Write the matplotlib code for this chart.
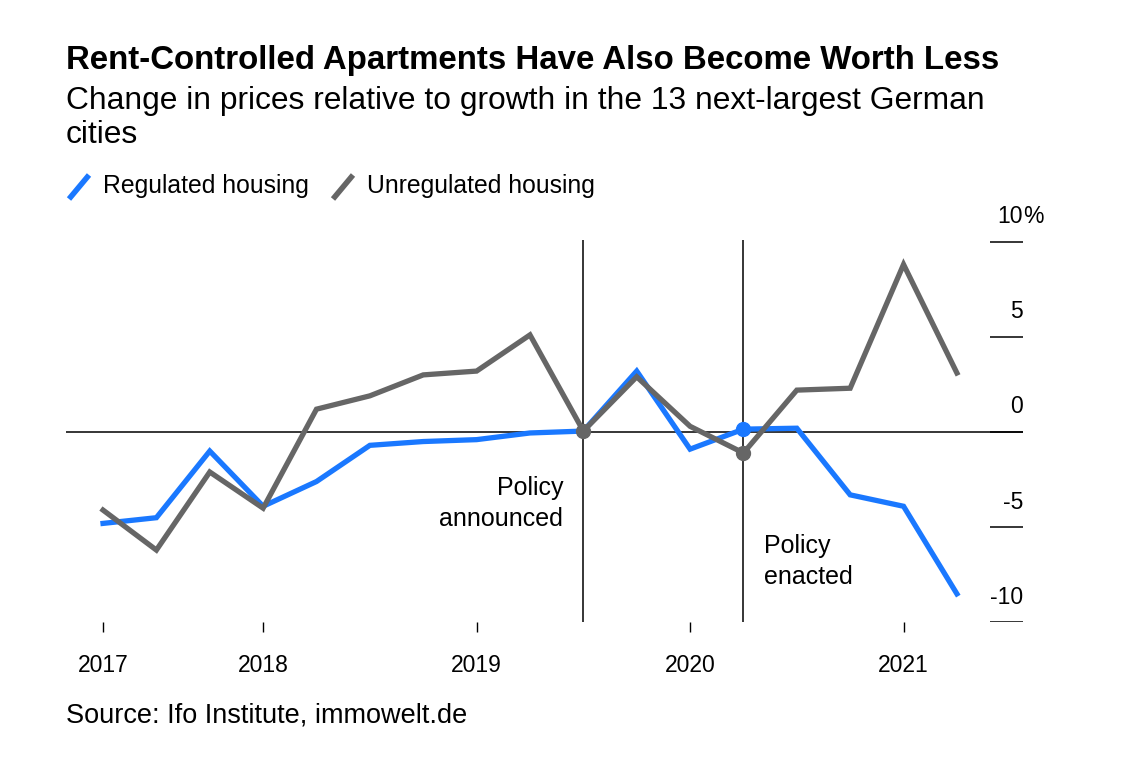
import matplotlib.pyplot as plt
from matplotlib.lines import Line2D

plt.rcParams['font.family'] = ['Liberation Sans', 'DejaVu Sans']

# quarterly observations, Q2 2017 .. Q2 2021
quarters = list(range(17))
regulated = [-4.8, -4.5, -1.0, -3.9, -2.6, -0.7, -0.5, -0.4, -0.05, 0.05,
             3.2, -0.9, 0.15, 0.2, -3.3, -3.9, -8.5]
unregulated = [-4.1, -6.2, -2.1, -4.0, 1.2, 1.9, 3.0, 3.2, 5.1, 0.05,
               2.9, 0.3, -1.1, 2.2, 2.3, 8.8, 3.1]

year_ticks = [0, 3, 7, 11, 15]
year_labels = ['2017', '2018', '2019', '2020', '2021']
y_ticks = [10, 5, 0, -5, -10]
y_labels = ['10', '5', '0', '-5', '-10']

announced = 9
enacted = 12

blue = '#1a78ff'
gray = '#666666'

fig = plt.figure(figsize=(11.27, 7.73), dpi=100)
ax = fig.add_axes([0.0586, 0.1948, 0.8492, 0.5419])
ax.set_xlim(-0.693, 17.24)
ax.set_ylim(-10, 12)
for s in ax.spines.values():
    s.set_visible(False)
ax.set_yticks([])
ax.set_xticks(year_ticks)
ax.set_xticklabels(year_labels, fontsize=16.5)
ax.tick_params(axis='x', length=7.5, width=1, color='black', pad=15)

# zero line and right-hand ticks
ax.axhline(0, color='black', lw=1.1, zorder=1)
for v, lab in zip(y_ticks, y_labels):
    ax.hlines(v, 16.62, 17.24, color='black', lw=1.1, zorder=1)
    ax.text(17.24, v + 0.72, lab, ha='right', va='bottom', fontsize=16.5)
ax.text(17.24, 10 + 0.72, '%', ha='left', va='bottom', fontsize=16.5)

# policy markers
ax.vlines([announced, enacted], -10, 10.1, color='black', lw=1.1, zorder=1)
ax.text(announced - 0.38, -3.76, 'Policy\nannounced', ha='right', va='center',
        fontsize=18, linespacing=1.33)
ax.text(enacted + 0.38, -6.8, 'Policy\nenacted', ha='left', va='center',
        fontsize=18, linespacing=1.33)

ax.plot(quarters, regulated, color=blue, lw=3.8, zorder=3, solid_joinstyle='miter')
ax.plot(quarters, unregulated, color=gray, lw=3.8, zorder=4, solid_joinstyle='miter')
ax.plot([enacted], [regulated[enacted]], 'o', color=blue, ms=10, zorder=5)
ax.plot([announced, enacted], [unregulated[announced], unregulated[enacted]],
        'o', color=gray, ms=10, zorder=6)

# titles
fig.text(0.0586, 1 - 60 / 773, 'Rent-Controlled Apartments Have Also Become Worth Less',
         fontsize=23.8, fontweight='bold', va='center')
fig.text(0.0586, 1 - 118 / 773,
         'Change in prices relative to growth in the 13 next-largest German\ncities',
         fontsize=22.9, va='center', linespacing=1.2)

# legend
for x0, col, lab in [(69, blue, 'Regulated housing'), (333, gray, 'Unregulated housing')]:
    fig.add_artist(Line2D([x0 / 1127, (x0 + 20) / 1127], [1 - 199 / 773, 1 - 175 / 773],
                          color=col, lw=4, solid_capstyle='butt'))
    fig.text((x0 + 34) / 1127, 1 - 186 / 773, lab, fontsize=17.8, va='center')

fig.text(0.0586, 1 - 715 / 773, 'Source: Ifo Institute, immowelt.de', fontsize=19.5, va='center')

fig.savefig('out.png', dpi=100)
